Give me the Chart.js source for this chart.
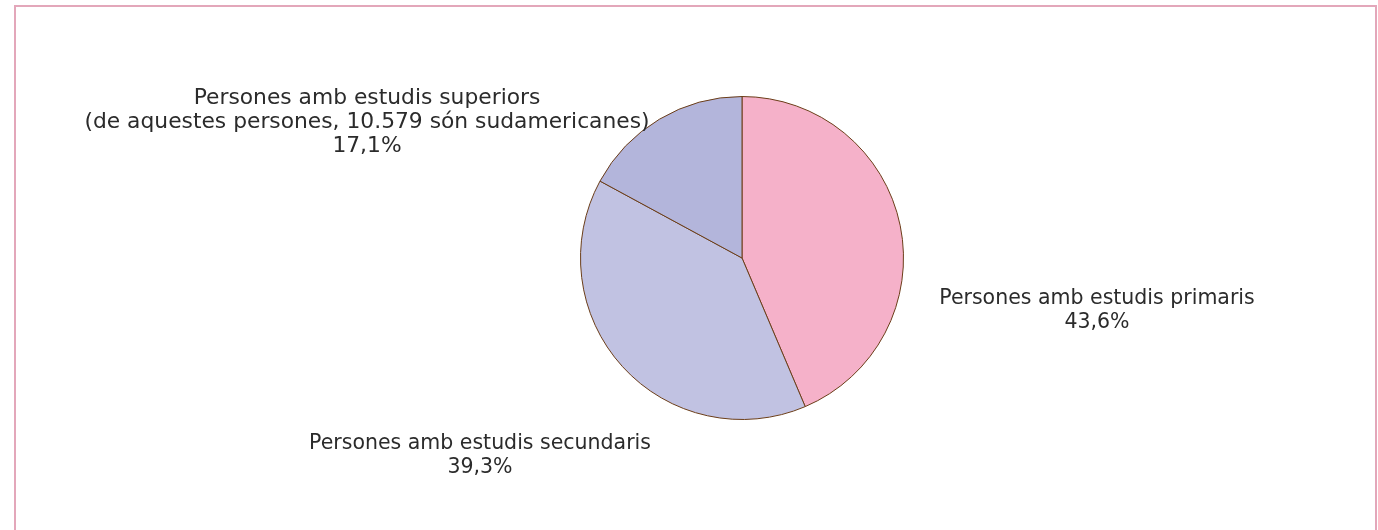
<!DOCTYPE html>
<html>
<head>
<meta charset="utf-8">
<script src="https://cdn.jsdelivr.net/npm/chart.js@4"></script>
<style>
  html, body { margin: 0; padding: 0; background: #fff; }
  #frame {
    position: absolute; left: 14px; top: 5px; width: 1363px; height: 540px;
    border: 2px solid #e3a7ba; box-sizing: border-box;
  }
  #wrap { position: absolute; left: 0; top: 0; width: 1378px; height: 530px; }
</style>
</head>
<body>
<div id="frame"></div>
<div id="wrap"><canvas id="pie"></canvas></div>
<script>
// Categories and shares (%)
const categories = [
  'Persones amb estudis primaris',
  'Persones amb estudis secundaris',
  'Persones amb estudis superiors'
];
const shares = [43.6, 39.3, 17.1];
const shareLabels = ['43,6%', '39,3%', '17,1%'];
const notes = ['', '', '(de aquestes persones, 10.579 són sudamericanes)'];
const colors = ['#f5b1c9', '#c1c2e2', '#b3b5db'];

// label text lines per slice
const labelLines = categories.map((c, i) =>
  notes[i] ? [c, notes[i], shareLabels[i]] : [c, shareLabels[i]]);

// label anchor, offset from pie centre (first line), font size, line step
const labelOffsets = [
  { dx: 355, dy: 41, size: 20.5, step: 24 },
  { dx: -262, dy: 186, size: 20.5, step: 24 },
  { dx: -375, dy: -160, size: 21.8, step: 24 }
];

const sliceLabels = {
  id: 'sliceLabels',
  afterDraw(chart) {
    const ctx = chart.ctx;
    const arc = chart.getDatasetMeta(0).data[0];
    ctx.save();
    ctx.fillStyle = '#2b2b2b';
    ctx.textAlign = 'center';
    ctx.textBaseline = 'middle';
    labelLines.forEach((lines, i) => {
      const o = labelOffsets[i];
      ctx.font = o.size + 'px "DejaVu Sans", sans-serif';
      lines.forEach((t, j) => {
        ctx.fillText(t, arc.x + o.dx, arc.y + o.dy + j * o.step);
      });
    });
    ctx.restore();
  }
};

new Chart(document.getElementById('pie'), {
  type: 'pie',
  data: {
    labels: categories,
    datasets: [{
      data: shares,
      backgroundColor: colors,
      borderColor: '#6b3d18',
      borderWidth: 1
    }]
  },
  options: {
    responsive: true,
    maintainAspectRatio: false,
    animation: false,
    layout: { padding: { left: 580, right: 474, top: 95, bottom: 109 } },
    plugins: {
      legend: { display: false },
      tooltip: { enabled: false }
    }
  },
  plugins: [sliceLabels]
});
</script>
</body>
</html>
